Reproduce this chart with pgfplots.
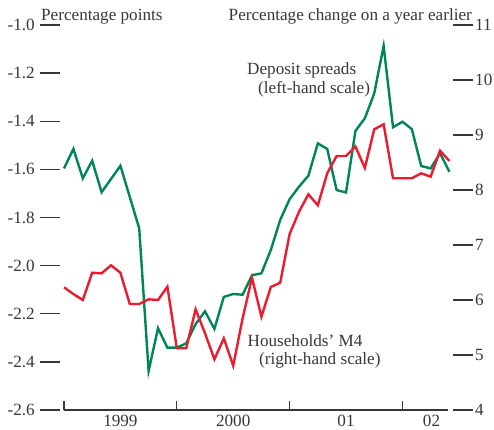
\documentclass[border=0pt]{standalone}
\usepackage{pgfplots}
\pgfplotsset{compat=1.18}
\usepackage{fontspec}
\setmainfont{Liberation Serif}
\definecolor{bgreen}{RGB}{0,133,88}
\definecolor{bred}{RGB}{234,28,46}
\definecolor{txt}{RGB}{55,55,55}
\newcommand{\lf}{\fontsize{17.2}{20}\selectfont}
\pgfplotstableread{
m v
0 -1.596
1 -1.515
2 -1.637
3 -1.564
4 -1.695
6 -1.585
8 -1.845
9 -2.438
10 -2.260
11 -2.341
12 -2.341
13 -2.323
14 -2.243
15 -2.190
16 -2.263
17 -2.130
18 -2.118
19 -2.121
20 -2.040
21 -2.032
22 -1.935
23 -1.810
24 -1.724
25 -1.672
26 -1.626
27 -1.492
28 -1.515
29 -1.686
30 -1.696
31 -1.440
32 -1.388
33 -1.284
34 -1.087
35 -1.425
36 -1.402
37 -1.433
38 -1.586
39 -1.596
40 -1.533
41 -1.610
}\spreads
\pgfplotstableread{
m v
0 6.231
1 6.109
2 6.000
3 6.496
4 6.485
5 6.631
6 6.496
7 5.927
8 5.927
9 6.013
10 6.000
11 6.242
12 5.122
13 5.122
14 5.831
15 5.395
16 4.922
17 5.304
18 4.805
19 5.667
20 6.404
21 5.696
22 6.236
23 6.315
24 7.200
25 7.605
26 7.922
27 7.722
28 8.304
29 8.618
30 8.618
31 8.791
32 8.400
33 9.104
34 9.195
35 8.213
36 8.213
37 8.213
38 8.304
39 8.242
40 8.715
41 8.527
}\mfour
\begin{document}
\begin{tikzpicture}[x=1bp,y=1bp]
\pgfplotsset{
  base/.style={scale only axis, width=393bp, height=385bp, at={(60bp,19bp)}, anchor=south west,
    xmin=-0.4255, xmax=41.38, clip=false,
    tick label style={font=\lf, text=txt},
    major tick style={line width=1.3bp, draw=txt},
    tick align=outside, major tick length=20bp,
    hide x axis, y axis line style={draw=none},
  }
}
% axis line and x ticks
\begin{axis}[scale only axis, width=384bp, height=385bp, at={(64bp,19bp)}, anchor=south west,
  xmin=0, xmax=40.85, ymin=0, ymax=1,
  axis x line*=bottom, hide y axis,
  axis line style={draw=txt, line width=1.3bp, -},
  major tick style={line width=1.3bp, draw=txt},
  tick align=inside, major tick length=9bp,
  xtick={0,12,24,36}, xticklabels={\mbox{},\mbox{},\mbox{},\mbox{}},
  extra x ticks={6,18,30,39.1},
  extra x tick labels={1999,2000,01,02},
  extra x tick style={major tick style={draw=none}},
  tick label style={font=\lf, text=txt},
  xticklabel style={inner sep=0pt, yshift=-5bp},
]
\end{axis}
\begin{axis}[base, ymin=-2.6, ymax=-1.0, axis y line*=left,
  ytick={-2.6,-2.4,-2.2,-2.0,-1.8,-1.6,-1.4,-1.2,-1.0},
  yticklabels={-2.6,-2.4,-2.2,-2.0,-1.8,-1.6,-1.4,-1.2,-1.0},
  yticklabel style={inner sep=0pt, xshift=-5bp},
]
\addplot[bgreen, line width=2.4bp] table[x=m, y=v] {\spreads};
\end{axis}
\begin{axis}[base, ymin=4, ymax=11, axis y line*=right,
  ytick={4,5,6,7,8,9,10,11},
  yticklabels={4,5,6,7,8,9,10,11},
  yticklabel style={inner sep=0pt, anchor=west, xshift=2bp},
]
\addplot[bred, line width=2.4bp] table[x=m, y=v] {\mfour};
\end{axis}
\begin{scope}[every node/.style={font=\lf, text=txt, inner sep=0pt}]
\node[anchor=base west] at (41,408.3) {Percentage points};
\node[anchor=base east] at (472,408.3) {Percentage change on a year earlier};
\node[anchor=base west] at (247,355) {Deposit spreads};
\node[anchor=base west] at (258,336) {(left-hand scale)};
\node[anchor=base west] at (247.5,82.3) {Households' M4};
\node[anchor=base west] at (259,65) {(right-hand scale)};
\end{scope}
\pgfresetboundingbox
\path[use as bounding box] (0,0) rectangle (494,429);
\end{tikzpicture}
\end{document}
